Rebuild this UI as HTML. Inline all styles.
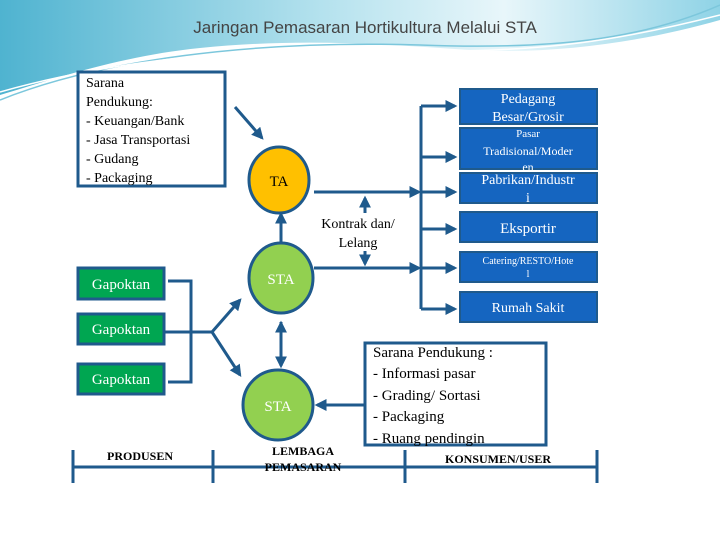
<!DOCTYPE html>
<html><head><style>
body{margin:0;width:720px;height:540px;overflow:hidden;background:#fff;font-family:"Liberation Serif",serif;}
svg{position:absolute;left:0;top:0}
</style></head><body>
<svg width="720" height="540" viewBox="0 0 720 540" xmlns="http://www.w3.org/2000/svg">
<defs>
<linearGradient id="g1" x1="0" y1="0" x2="1" y2="0">
<stop offset="0" stop-color="#4fb3d0"/><stop offset="0.45" stop-color="#b5e2ee"/><stop offset="0.7" stop-color="#e8f6fa"/><stop offset="1" stop-color="#8fd3e6"/>
</linearGradient>
<marker id="a" viewBox="0 0 10 10" refX="8" refY="5" markerWidth="4" markerHeight="4" orient="auto"><path d="M0,0L10,5L0,10z" fill="#1f5a8c"/></marker>
</defs>
<path d="M0,0H720V20C650,40 560,55 470,50C380,44 300,38 200,48C120,56 50,80 0,95Z" fill="url(#g1)"/>
<path d="M0,100C100,60 250,40 420,45C550,50 640,40 720,5" stroke="#7cc7dc" fill="none" stroke-width="1.5"/>
<path d="M0,92C120,58 260,46 400,50C540,55 630,38 720,15" stroke="#fff" fill="none" stroke-width="1.5"/>
<text x="365" y="33" font-family="Liberation Sans" font-size="17" fill="#444" text-anchor="middle">Jaringan Pemasaran Hortikultura Melalui STA</text>

<g stroke="#1f5a8c" stroke-width="3" fill="none">
<line x1="235" y1="107" x2="262" y2="138" marker-end="url(#a)"/>
<line x1="421" y1="106" x2="421" y2="309"/>
<line x1="421" y1="106" x2="455" y2="106" marker-end="url(#a)"/>
<line x1="421" y1="157" x2="455" y2="157" marker-end="url(#a)"/>
<line x1="421" y1="192" x2="455" y2="192" marker-end="url(#a)"/>
<line x1="421" y1="229" x2="455" y2="229" marker-end="url(#a)"/>
<line x1="421" y1="268" x2="455" y2="268" marker-end="url(#a)"/>
<line x1="421" y1="309" x2="455" y2="309" marker-end="url(#a)"/>
<line x1="314" y1="192" x2="419" y2="192" marker-end="url(#a)"/>
<line x1="314" y1="268" x2="419" y2="268" marker-end="url(#a)"/>
<line x1="365" y1="213" x2="365" y2="198" marker-end="url(#a)"/>
<line x1="365" y1="251" x2="365" y2="264" marker-end="url(#a)"/>
<line x1="281" y1="242" x2="281" y2="214" marker-end="url(#a)"/>
<line x1="281" y1="330" x2="281" y2="323" marker-end="url(#a)"/>
<line x1="281" y1="322" x2="281" y2="366" marker-end="url(#a)"/>
<path d="M168,281H191V382H168M164,332H212"/>
<line x1="212" y1="332" x2="240" y2="300" marker-end="url(#a)"/>
<line x1="212" y1="332" x2="240" y2="375" marker-end="url(#a)"/>
<line x1="365" y1="405" x2="317" y2="405" marker-end="url(#a)"/>
<line x1="73" y1="467" x2="597" y2="467"/>
<line x1="73" y1="450" x2="73" y2="483"/><line x1="213" y1="450" x2="213" y2="483"/>
<line x1="405" y1="450" x2="405" y2="483"/><line x1="597" y1="450" x2="597" y2="483"/>
</g>

<rect x="78" y="72" width="147" height="114" fill="#fff" stroke="#1f5a8c" stroke-width="3"/>
<g font-size="14" fill="#000">
<text x="86" y="87">Sarana</text><text x="86" y="106">Pendukung:</text>
<text x="86" y="125">- Keuangan/Bank</text><text x="86" y="144">- Jasa Transportasi</text>
<text x="86" y="163">- Gudang</text><text x="86" y="182">- Packaging</text>
</g>

<ellipse cx="279" cy="180" rx="30" ry="33" fill="#ffc000" stroke="#1f5a8c" stroke-width="3"/>
<text x="279" y="186" font-size="15" text-anchor="middle">TA</text>
<ellipse cx="281" cy="278" rx="32" ry="35" fill="#92d050" stroke="#1f5a8c" stroke-width="3"/>
<text x="281" y="284" font-size="15" text-anchor="middle" fill="#fff">STA</text>
<ellipse cx="278" cy="405" rx="35" ry="35" fill="#92d050" stroke="#1f5a8c" stroke-width="3"/>
<text x="278" y="411" font-size="15" text-anchor="middle" fill="#fff">STA</text>

<g fill="#00a651" stroke="#1f5a8c" stroke-width="3">
<rect x="78" y="268" width="86" height="31"/><rect x="78" y="314" width="86" height="30"/><rect x="78" y="364" width="86" height="30"/>
</g>
<g font-size="15" fill="#fff" text-anchor="middle">
<text x="121" y="289">Gapoktan</text><text x="121" y="334">Gapoktan</text><text x="121" y="384">Gapoktan</text>
</g>

<g fill="#1565c0" stroke="#1f5a8c" stroke-width="2">
<rect x="460" y="89" width="137" height="35"/><rect x="460" y="128" width="137" height="41"/>
<rect x="460" y="173" width="137" height="30"/><rect x="460" y="212" width="137" height="30"/>
<rect x="460" y="252" width="137" height="30"/><rect x="460" y="292" width="137" height="30"/>
</g>
<g fill="#fff" text-anchor="middle">
<text x="528" y="103" font-size="14">Pedagang</text><text x="528" y="121" font-size="14">Besar/Grosir</text>
<text x="528" y="137" font-size="11">Pasar</text><text x="528" y="155" font-size="12">Tradisional/Moder</text><text x="528" y="171" font-size="12">en</text>
<text x="528" y="184" font-size="14">Pabrikan/Industr</text><text x="528" y="202" font-size="14">i</text>
<text x="528" y="233" font-size="15">Eksportir</text>
<text x="528" y="264" font-size="10">Catering/RESTO/Hote</text><text x="528" y="277" font-size="10">l</text>
<text x="528" y="312" font-size="14">Rumah Sakit</text>
</g>
<g font-size="14" text-anchor="middle"><text x="358" y="228">Kontrak dan/</text><text x="358" y="247">Lelang</text></g>

<rect x="365" y="343" width="181" height="102" fill="#fff" stroke="#1f5a8c" stroke-width="3"/>
<g font-size="15"><text x="373" y="357">Sarana Pendukung :</text><text x="373" y="378">- Informasi pasar</text>
<text x="373" y="400">- Grading/ Sortasi</text><text x="373" y="421">- Packaging</text><text x="373" y="443">- Ruang pendingin</text></g>

<g font-size="12" text-anchor="middle" font-weight="bold">
<text x="140" y="460">PRODUSEN</text><text x="303" y="455">LEMBAGA</text><text x="303" y="471">PEMASARAN</text>
<text x="498" y="463">KONSUMEN/USER</text></g>
</svg>
</body></html>
